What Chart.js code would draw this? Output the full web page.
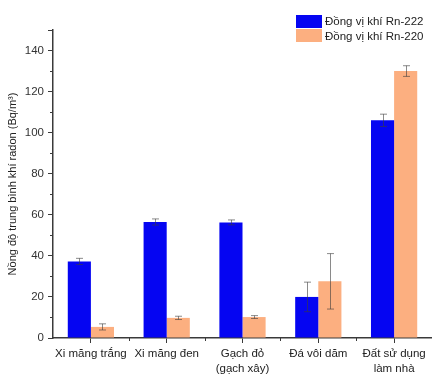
<!DOCTYPE html>
<html lang="vi">
<head>
  <meta charset="UTF-8" />
  <title>Radon</title>
  <script src="https://cdn.jsdelivr.net/npm/chart.js"></script>
  <style>
    body {
      margin: 0;
      background: #fff;
      font-family: Arial, 'Liberation Sans', sans-serif;
    }

    .wrap {
      position: relative;
      width: 432px;
      height: 374px;
    }

    .legend {
      position: absolute;
      left: 296px;
      top: 14px;
      font-size: 11.5px;
      color: #222;
    }

    .legend .item {
      display: flex;
      align-items: center;
      height: 14.5px;
    }

    .legend .sw {
      width: 26px;
      height: 13px;
      margin-right: 3px;
    }
  </style>
</head>
<body>
  <div class="wrap">
    <canvas id="c" width="432" height="374"></canvas>
    <div class="legend" id="legend"></div>
  </div>

  <script>
    const categories = [
      'Xi măng trắng',
      'Xi măng đen',
      ['Gạch đỏ', '(gạch xây)'],
      'Đá vôi dăm',
      ['Đất sử dụng', 'làm nhà']
    ];
    const rn222 = [37.3, 56.5, 56.3, 20.0, 106.0];
    const rn222Err = [1.5, 1.5, 1.2, 7.2, 3.0];
    const rn220 = [5.4, 9.8, 10.2, 27.6, 130.0];
    const rn220Err = [1.5, 0.8, 0.7, 13.5, 2.6];
    const seriesNames = ['Đồng vị khí Rn-222', 'Đồng vị khí Rn-220'];
    const errs = [rn222Err, rn220Err];

    const FONT = "Arial, 'Liberation Sans', sans-serif";
    const AXIS = '#3a3a3a';

    // error bars + minor ticks
    const extras = {
      id: 'extras',
      afterDatasetsDraw(chart) {
        const ctx = chart.ctx;
        const y = chart.scales.y;
        const x = chart.scales.x;
        ctx.save();
        ctx.lineWidth = 1;
        ctx.strokeStyle = 'rgba(60,60,60,0.6)';
        chart.data.datasets.forEach((ds, i) => {
          chart.getDatasetMeta(i).data.forEach((bar, j) => {
            const v = ds.data[j], e = errs[i][j];
            const top = y.getPixelForValue(v + e);
            const bot = y.getPixelForValue(v - e);
            const bx = Math.round(bar.x) + 0.5;
            ctx.beginPath();
            ctx.moveTo(bx, top); ctx.lineTo(bx, bot);
            ctx.moveTo(bx - 3.5, top); ctx.lineTo(bx + 3.5, top);
            ctx.moveTo(bx - 3.5, bot); ctx.lineTo(bx + 3.5, bot);
            ctx.stroke();
          });
        });

        ctx.strokeStyle = AXIS;
        ctx.lineWidth = 1;
        ctx.beginPath();
        for (let v = 10; v <= 150; v += 20) {
          const py = Math.round(y.getPixelForValue(v)) + 0.5;
          ctx.moveTo(y.right - 3, py); ctx.lineTo(y.right, py);
        }
        for (let k = 1; k < categories.length; k++) {
          const px = Math.round(x.getPixelForValue(k - 0.5)) + 0.5;
          ctx.moveTo(px, x.top); ctx.lineTo(px, x.top + 3);
        }
        ctx.stroke();
        ctx.restore();
      }
    };

    const chart = new Chart(document.getElementById('c'), {
      type: 'bar',
      data: {
        labels: categories,
        datasets: [
          {
            label: seriesNames[0],
            data: rn222,
            backgroundColor: '#0505f2',
            borderWidth: 0
          },
          {
            label: seriesNames[1],
            data: rn220,
            backgroundColor: '#fcaf80',
            borderWidth: 0
          }
        ]
      },
      options: {
        responsive: false,
        animation: false,
        layout: { padding: { top: 30, right: 0, left: 0, bottom: 0 } },
        datasets: {
          bar: { categoryPercentage: 0.61, barPercentage: 1.0 }
        },
        plugins: {
          legend: { display: false },
          tooltip: { enabled: false }
        },
        scales: {
          x: {
            offset: true,
            afterFit(s) { s.height = 36; },
            border: { color: AXIS, width: 1.5 },
            grid: {
              offset: false,
              drawOnChartArea: false,
              drawTicks: true,
              tickLength: 5,
              tickColor: AXIS
            },
            ticks: {
              color: '#222',
              padding: 4,
              maxRotation: 0,
              autoSkip: false,
              font: { family: FONT, size: 11.5, lineHeight: 1.25 }
            }
          },
          y: {
            min: 0,
            max: 150,
            afterFit(s) { s.width = 53; },
            border: { color: AXIS, width: 1.5 },
            grid: {
              drawOnChartArea: false,
              drawTicks: true,
              tickLength: 5,
              tickColor: AXIS
            },
            ticks: {
              stepSize: 20,
              color: '#333',
              padding: 4,
              font: { family: FONT, size: 11.5 },
              callback: v => (v % 20 === 0 ? v : '')
            },
            title: {
              display: true,
              text: 'Nồng độ trung bình khí radon (Bq/m³)',
              color: '#222',
              padding: { top: 6, bottom: 0 },
              font: { family: FONT, size: 11 }
            }
          }
        }
      },
      plugins: [extras]
    });

    const legend = document.getElementById('legend');
    chart.data.datasets.forEach(ds => {
      const item = document.createElement('div');
      item.className = 'item';
      item.innerHTML = '<span class="sw" style="background:' + ds.backgroundColor + '"></span>' + ds.label;
      legend.appendChild(item);
    });
  </script>
</body>
</html>
